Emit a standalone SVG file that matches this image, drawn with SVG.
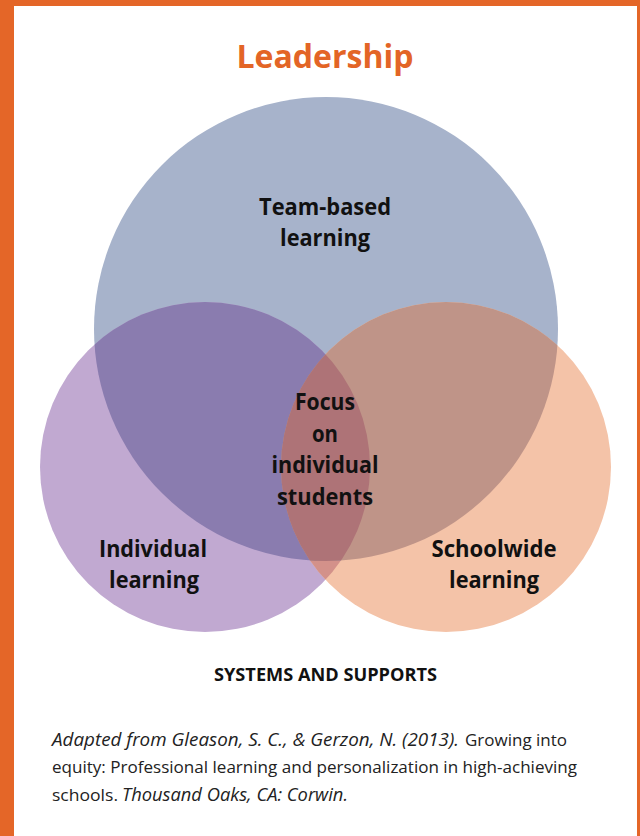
<svg xmlns="http://www.w3.org/2000/svg" width="640" height="836" viewBox="0 0 640 836">
  <style>
    .frame { fill: #e46628; }
    .title { font-family: "Open Sans", "Noto Sans", sans-serif; font-weight: 700; font-size: 32px; fill: #e36526; }
    .lbl { font-family: "Open Sans", "Noto Sans", sans-serif; font-weight: 700; font-size: 24px; fill: #111111; }
    .caps { font-family: "Open Sans", "Noto Sans", sans-serif; font-weight: 700; font-size: 17px; fill: #111111; }
    .cite { font-family: "Open Sans", "Noto Sans", sans-serif; font-size: 17px; fill: #222222; }
    .it { font-style: italic; font-size: 18px; }
  </style>
  <defs>
    <circle id="team" cx="326" cy="329" r="232"/>
    <circle id="indiv" cx="205" cy="467" r="165"/>
    <circle id="school" cx="446" cy="467" r="165"/>
    <clipPath id="clipTeam"><use href="#team"/></clipPath>
    <clipPath id="clipIndiv"><use href="#indiv"/></clipPath>
  </defs>

  <!-- page background and orange frame -->
  <rect x="0" y="0" width="640" height="836" fill="#ffffff"/>
  <rect class="frame" x="0" y="0" width="640" height="6"/>
  <rect class="frame" x="0" y="0" width="14" height="836"/>
  <rect class="frame" x="637" y="0" width="3" height="836"/>

  <text class="title" x="325" y="68" text-anchor="middle">Leadership</text>

  <!-- Venn circles -->
  <g id="circle-team"><use href="#team" fill="#a7b3cb"/></g>
  <g id="circle-individual"><use href="#indiv" fill="#c1a9d1"/></g>
  <g id="circle-schoolwide"><use href="#school" fill="#f4c3a8"/></g>

  <!-- overlap regions -->
  <g id="overlaps">
    <use href="#school" fill="#d3918a" clip-path="url(#clipIndiv)"/>
    <use href="#indiv" fill="#8a7caf" clip-path="url(#clipTeam)"/>
    <use href="#school" fill="#bf9488" clip-path="url(#clipTeam)"/>
    <g clip-path="url(#clipIndiv)">
      <use href="#school" fill="#ae7377" clip-path="url(#clipTeam)"/>
    </g>
  </g>

  <!-- labels -->
  <g id="label-team">
    <text class="lbl" x="325" y="215" text-anchor="middle" textLength="132" lengthAdjust="spacingAndGlyphs">Team-based</text>
    <text class="lbl" x="325" y="246" text-anchor="middle" textLength="90" lengthAdjust="spacingAndGlyphs">learning</text>
  </g>
  <g id="label-focus">
    <text class="lbl" x="325" y="410" text-anchor="middle" textLength="60" lengthAdjust="spacingAndGlyphs">Focus</text>
    <text class="lbl" x="325" y="442" text-anchor="middle" textLength="26" lengthAdjust="spacingAndGlyphs">on</text>
    <text class="lbl" x="325" y="473" text-anchor="middle" textLength="107" lengthAdjust="spacingAndGlyphs">individual</text>
    <text class="lbl" x="325" y="505" text-anchor="middle" textLength="96" lengthAdjust="spacingAndGlyphs">students</text>
  </g>
  <g id="label-individual">
    <text class="lbl" x="153" y="557" text-anchor="middle" textLength="108" lengthAdjust="spacingAndGlyphs">Individual</text>
    <text class="lbl" x="154" y="588" text-anchor="middle" textLength="90" lengthAdjust="spacingAndGlyphs">learning</text>
  </g>
  <g id="label-schoolwide">
    <text class="lbl" x="494" y="557" text-anchor="middle" textLength="125" lengthAdjust="spacingAndGlyphs">Schoolwide</text>
    <text class="lbl" x="494" y="588" text-anchor="middle" textLength="90" lengthAdjust="spacingAndGlyphs">learning</text>
  </g>

  <text class="caps" x="325.5" y="681" text-anchor="middle" textLength="223" lengthAdjust="spacingAndGlyphs">SYSTEMS AND SUPPORTS</text>

  <g id="citation">
    <text class="cite it" x="52" y="746" textLength="407" lengthAdjust="spacingAndGlyphs">Adapted from Gleason, S. C., &amp; Gerzon, N. (2013).</text>
    <text class="cite" x="465" y="746" textLength="102" lengthAdjust="spacingAndGlyphs">Growing into</text>
    <text class="cite" x="52" y="773" textLength="525" lengthAdjust="spacingAndGlyphs">equity: Professional learning and personalization in high-achieving</text>
    <text class="cite" x="52" y="801" textLength="66" lengthAdjust="spacingAndGlyphs">schools.</text>
    <text class="cite it" x="122" y="801" textLength="226" lengthAdjust="spacingAndGlyphs">Thousand Oaks, CA: Corwin.</text>
  </g>
</svg>
